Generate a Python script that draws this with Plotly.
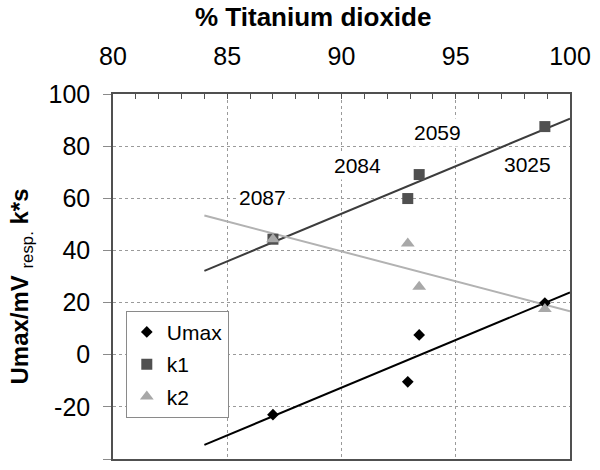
import numpy as np
import plotly.graph_objects as go

# Sample composition (% TiO2) and measured responses
tio2_pct = [87.0, 92.9, 93.4, 98.9]
umax = [-23.0, -10.4, 7.6, 19.8]
k1 = [44.3, 59.9, 69.1, 87.5]
k2 = [44.3, 42.7, 26.1, 17.5]
sample_ids = ["2087", "2084", "2059", "3025"]

x_ticks = [80, 85, 90, 95, 100]
y_ticks = [-40, -20, 0, 20, 40, 60, 80, 100]

FONT = "Liberation Sans, Arial, sans-serif"

series = [
    ("Umax", umax, "diamond", 9, "#000000", "#000000"),
    ("k1", k1, "square", 11, "#505050", "#3c3c3c"),
    ("k2", k2, "triangle-up", 12, "#a8a8a8", "#b2b2b2"),
]

fig = go.Figure()

# Linear trend lines (least squares), extended back to 84 % and forward to 100 %
trend_x = np.array([84.0, 100.0])
for name, vals, sym, size, mcol, lcol in series:
    slope, intercept = np.polyfit(tio2_pct, vals, 1)
    fig.add_trace(go.Scatter(
        x=trend_x, y=slope * trend_x + intercept, mode="lines",
        line=dict(color=lcol, width=2), showlegend=False, hoverinfo="skip",
    ))

for name, vals, sym, size, mcol, lcol in series:
    fig.add_trace(go.Scatter(
        x=tio2_pct, y=vals, mode="markers", name=name, legendgroup=name,
        marker=dict(symbol=sym, size=size, color=mcol, line=dict(width=0)),
    ))

# Sample id labels placed beside their points
label_pos = [(86.56, 60.3), (90.71, 72.6), (94.19, 85.3), (98.14, 72.9)]
for sid, (lx, ly) in zip(sample_ids, label_pos):
    fig.add_annotation(
        x=lx, y=ly, xref="x", yref="y", text=sid, showarrow=False,
        font=dict(family=FONT, size=21, color="#000000"),
        bgcolor="#ffffff", borderpad=2,
    )

# Axis titles
fig.add_annotation(
    x=0.4366, y=1.21, xref="paper", yref="paper", text="<b>% Titanium dioxide</b>",
    showarrow=False, xanchor="center", yanchor="middle",
    font=dict(family=FONT, size=26, color="#000000"),
)
fig.add_annotation(
    x=-0.2, y=0.4714, xref="paper", yref="paper",
    text="<b>Umax/mV</b> <sub>resp.</sub> <b>k*s</b>",
    showarrow=False, textangle=-90, xanchor="center", yanchor="middle",
    font=dict(family=FONT, size=24, color="#000000"),
)

fig.update_layout(
    width=600, height=470,
    margin=dict(l=113, r=22, t=94, b=9),
    paper_bgcolor="#ffffff", plot_bgcolor="#ffffff",
    font=dict(family=FONT, color="#000000"),
    legend=dict(
        x=0.028, y=0.406, xanchor="left", yanchor="top",
        bgcolor="#ffffff", bordercolor="#8a8a8a", borderwidth=1,
        font=dict(family=FONT, size=21, color="#000000"),
        traceorder="grouped", tracegroupgap=2, itemwidth=30,
    ),
    xaxis=dict(
        side="top", range=[80, 100], tickvals=x_ticks,
        showline=True, linecolor="#505050", linewidth=1.5, mirror=True,
        showgrid=True, gridcolor="#9a9a9a", griddash="dot", gridwidth=1,
        ticks="inside", ticklen=5, tickcolor="#505050",
        minor=dict(dtick=1, ticks="inside", ticklen=5, tickcolor="#505050", showgrid=False),
        tickfont=dict(family=FONT, size=25, color="#000000"),
        ticklabelstandoff=17, zeroline=False,
    ),
    yaxis=dict(
        range=[-40, 100], tickvals=y_ticks, ticktext=[str(v) for v in y_ticks],
        showline=True, linecolor="#505050", linewidth=1.5, mirror=True,
        showgrid=True, gridcolor="#9a9a9a", griddash="dot", gridwidth=1,
        ticks="outside", ticklen=8, tickcolor="#8a8a8a",
        tickfont=dict(family=FONT, size=25, color="#000000"),
        ticklabelstandoff=8, zeroline=False,
    ),
)

fig.write_html("out.html")
